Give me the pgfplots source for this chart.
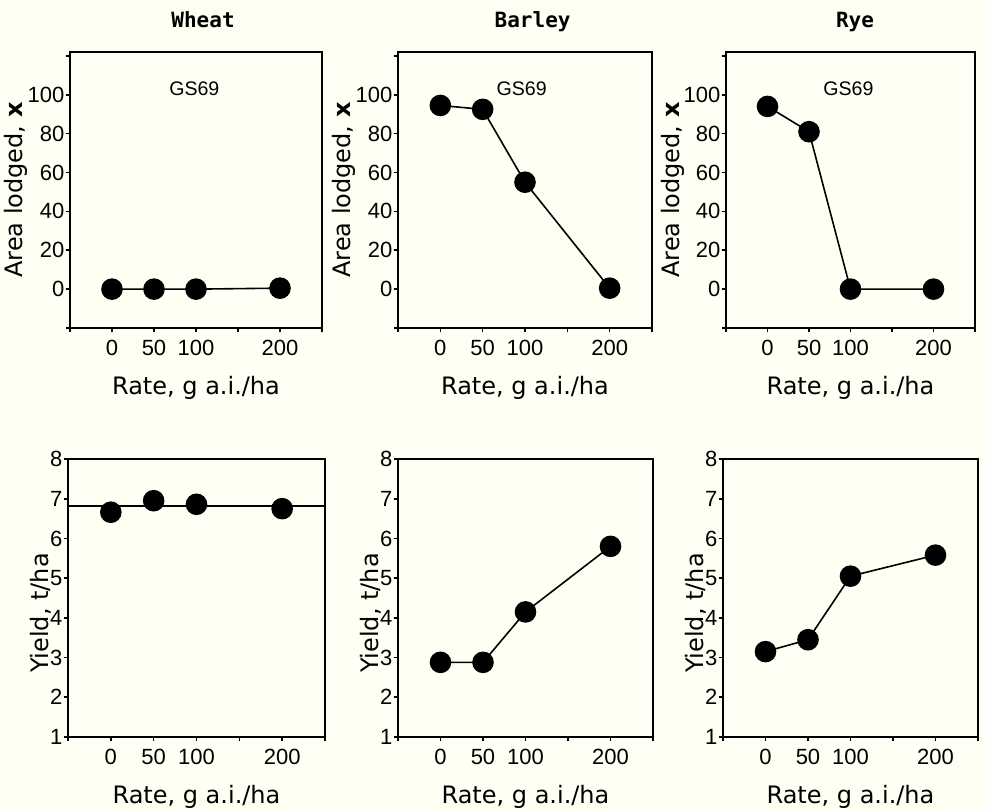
\documentclass[border=0pt]{standalone}
\usepackage{fontspec}
\setmainfont{DejaVu Sans}
\newfontfamily\tickfont{Liberation Sans}
\newfontfamily\titlefont{DejaVu Sans Mono}
\usepackage{pgfplots}
\pgfplotsset{compat=1.18}
\definecolor{bg}{RGB}{255,255,243}
\newcommand\labfont{\fontsize{12}{14}\selectfont}
\tikzset{gs/.style={font=\tickfont\fontsize{9.8}{11}\selectfont}}
\pgfplotsset{
  panel/.style={
    scale only axis,
    axis line style={line width=1pt},
    tick align=outside,
    tick pos=left,
    major tick length=2.2pt,
    minor tick length=2.2pt,
    every tick/.style={black, line width=0.8pt},
    xmin=-50, xmax=250,
    xtick={0,50,100,200},
    minor xtick={-50,150,250},
    tick label style={font=\tickfont\fontsize{11}{12}\selectfont},
    /pgf/number format/assume math mode=true,
    yticklabel style={inner sep=0.4pt},
    xticklabel style={inner sep=1pt, yshift=-2.5pt},
    xlabel={Rate, g a.i./ha},
    every axis x label/.style={at={(axis description cs:0.5,-0.217)}, anchor=center, font=\labfont},
    every axis title/.style={anchor=base, font=\titlefont\bfseries\fontsize{10.5}{12}\selectfont},
    clip=false,
  },
  toprow/.style={panel,
    height=138pt,
    ymin=-20, ymax=122,
    ytick={0,20,...,100},
    minor ytick={-20,120},
    ylabel={Area lodged, \textbf{x}},
    every axis y label/.style={at={(axis description cs:-0.215,0.5)}, rotate=90, anchor=center, font=\labfont},
  },
  botrow/.style={panel,
    height=139pt,
    ymin=1, ymax=8,
    ytick={1,2,...,8},
    ylabel={Yield, t/ha},
    every axis y label/.style={at={(axis description cs:-0.105,0.446)}, rotate=90, anchor=center, font=\labfont},
  },
  dat/.style={black, line width=0.8pt, mark=*, mark size=5pt, mark options={solid, fill=black}},
}
\begin{document}
\begin{tikzpicture}
\fill[bg] (0,0) rectangle (493pt,405.5pt);
% ---------- top row ----------
\begin{axis}[toprow, at={(35pt,241.5pt)}, anchor=south west, width=126pt,
  title={Wheat}, title style={at={(axis description cs:0.528,1.09)}}]
  \addplot[dat] coordinates {(0,0) (50,0) (100,0) (200,0.5)};
  \node[gs] at (axis cs:98,103) {GS69};
\end{axis}
\begin{axis}[toprow, at={(199pt,241.5pt)}, anchor=south west, width=127pt,
  title={Barley}, title style={at={(axis description cs:0.53,1.09)}}]
  \addplot[dat] coordinates {(0,94.5) (50,92.5) (100,55) (200,0.5)};
  \node[gs] at (axis cs:96,103) {GS69};
\end{axis}
\begin{axis}[toprow, at={(363pt,241.5pt)}, anchor=south west, width=124.5pt,
  title={Rye}, title style={at={(axis description cs:0.518,1.09)}}]
  \addplot[dat] coordinates {(0,94) (50,81) (100,0) (200,0)};
  \node[gs] at (axis cs:97.5,103) {GS69};
\end{axis}
% ---------- bottom row ----------
\begin{axis}[botrow, at={(34pt,37pt)}, anchor=south west, width=128.5pt]
  \addplot[black, line width=0.8pt] coordinates {(-50,6.82) (250,6.82)};
  \addplot[dat, only marks] coordinates {(0,6.66) (50,6.95) (100,6.86) (200,6.75)};
\end{axis}
\begin{axis}[botrow, at={(199pt,37pt)}, anchor=south west, width=127.5pt]
  \addplot[dat] coordinates {(0,2.88) (50,2.88) (100,4.15) (200,5.8)};
\end{axis}
\begin{axis}[botrow, at={(361.5pt,37pt)}, anchor=south west, width=127.5pt]
  \addplot[dat] coordinates {(0,3.15) (50,3.45) (100,5.05) (200,5.58)};
\end{axis}
\pgfresetboundingbox
\path[use as bounding box] (0,0) rectangle (493pt,405.5pt);
\end{tikzpicture}
\end{document}
